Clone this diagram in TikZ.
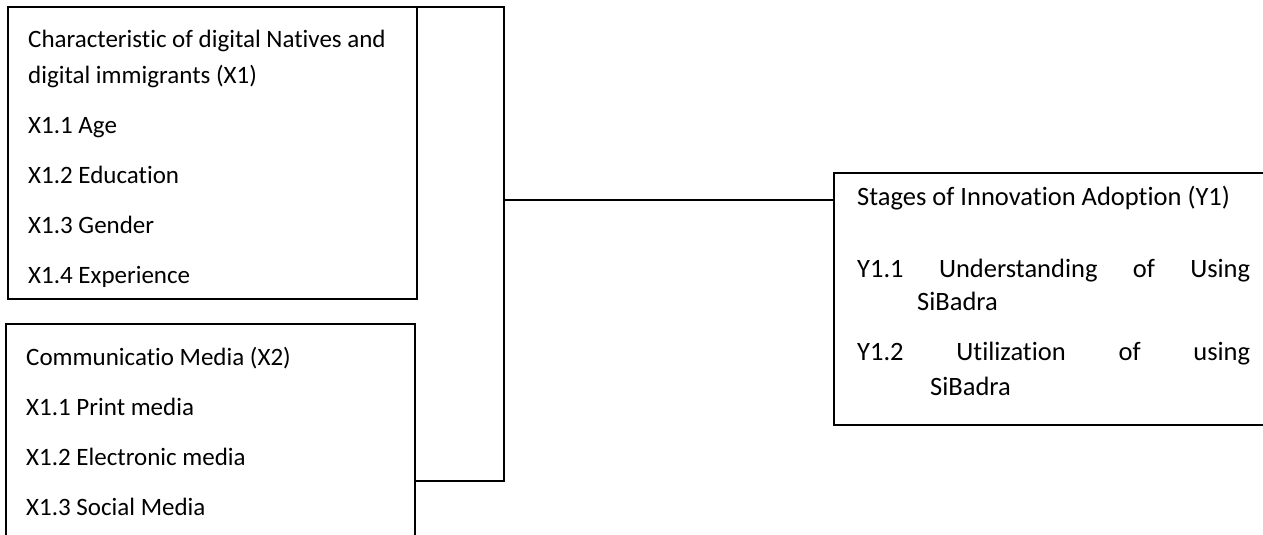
\documentclass[tikz,border=0pt]{standalone}
\usepackage{fontspec}
\setmainfont[Ligatures=NoCommon]{Carlito}
\begin{document}
\begin{tikzpicture}[x=1pt,y=-1pt,
  box/.style={draw, line width=2.2pt, rectangle, inner sep=0pt, outer sep=0pt, anchor=north west},
  conn/.style={line width=1.1pt},
  txt/.style={anchor=base west, inner sep=0pt, font=\fontsize{25}{30}\selectfont},
  ytxt/.style={txt, font=\fontsize{26.5}{31}\selectfont}]
\useasboundingbox (0,0) rectangle (1263,535);
\clip (0,0) rectangle (1263,535);
% boxes
\node[box, minimum width=409pt, minimum height=292pt] (x1) at (8,7) {};
\node[box, minimum width=409pt, minimum height=240pt] (x2) at (6,324) {};
\node[box, minimum width=460pt, minimum height=252pt] (y1) at (834,173) {};
% texts X1
\node[txt] (t11) at (28,48) {Characteristic of digital Natives and};
\node[txt] (t12) at (28,83) {digital immigrants (X1)};
\node[txt] (t13) at (28,133) {X1.1 Age};
\node[txt] (t14) at (28,183) {X1.2 Education};
\node[txt] (t15) at (28,233) {X1.3 Gender};
\node[txt] (t16) at (28,283) {X1.4 Experience};
% texts X2
\node[txt] (t21) at (26,365) {Communicatio Media (X2)};
\node[txt] (t22) at (26,415) {X1.1 Print media};
\node[txt] (t23) at (26,465) {X1.2 Electronic media};
\node[txt] (t24) at (26,515) {X1.3 Social Media};
% texts Y1
\node[ytxt] (t31) at (857,205) {Stages of Innovation Adoption (Y1)};
\node[ytxt] (t32) at (857,277) {\makebox[393pt][s]{Y1.1\hfill Understanding\hfill of\hfill Using}};
\node[ytxt] (t33) at (917,310) {SiBadra};
\node[ytxt] (t34) at (857,360) {\makebox[393pt][s]{Y1.2\hfill Utilization\hfill of\hfill using}};
\node[ytxt] (t35) at (930,395) {SiBadra};
% connectors
\coordinate (bt) at (504,7);
\coordinate (bm) at (504,200);
\coordinate (bb) at (504,481);
\draw[conn] (x1.north east) -- (bt) -- (bb) -- (x2.east |- bb);
\draw[conn] (bm) -- (y1.west |- bm);
\end{tikzpicture}
\end{document}
